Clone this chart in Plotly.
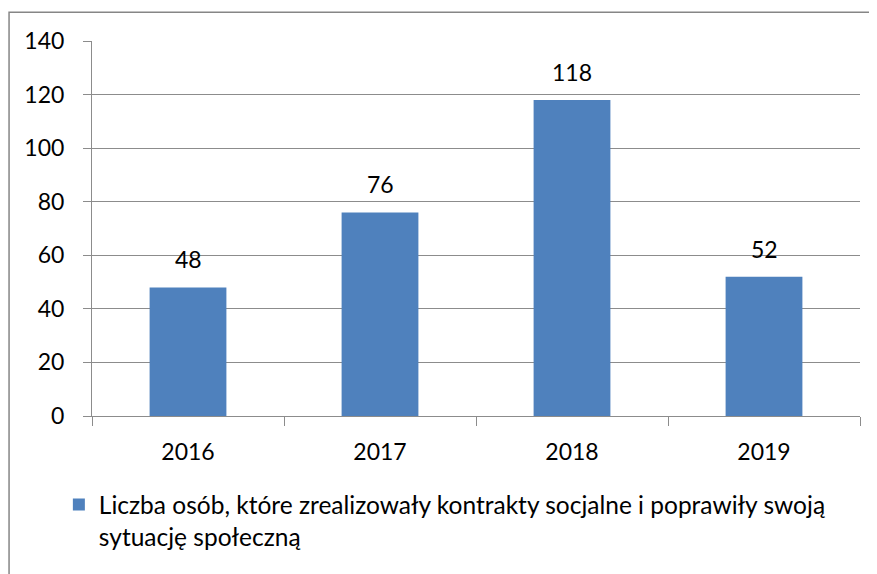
import plotly.graph_objects as go

years = ["2016", "2017", "2018", "2019"]
values = [48, 76, 118, 52]
series_name = "Liczba osób, które zrealizowały kontrakty socjalne i poprawiły swoją<br>sytuację społeczną"

BAR_COLOR = "#4F81BD"
GRID_COLOR = "#8C8C8C"
FONT = "Lato"
FSIZE = 23

fig = go.Figure()
fig.add_trace(
    go.Bar(
        x=years,
        y=values,
        name=series_name,
        marker=dict(color=BAR_COLOR, line=dict(width=0)),
        width=0.4,
        showlegend=True,
    )
)

# data labels above the bars (x given as category index)
for i, v in enumerate(values):
    fig.add_annotation(
        x=i, y=v, text=str(v), showarrow=False,
        yanchor="bottom", yshift=12,
        font=dict(family=FONT, size=FSIZE, color="black"),
    )

# outer chart border
fig.add_shape(
    type="rect", xref="paper", yref="paper",
    x0=-0.108, x1=1.05, y0=-0.46, y1=1.077,
    line=dict(color="#868686", width=1.5), layer="below",
)

# page body has an 8px margin, so the figure is offset by 8px
fig.update_layout(
    width=877, height=574,
    margin=dict(l=84, r=25, t=33, b=166, autoexpand=False),
    paper_bgcolor="white", plot_bgcolor="white",
    font=dict(family=FONT, size=FSIZE, color="black"),
    showlegend=True,
    legend=dict(
        xref="container", yref="container",
        x=0.058, y=0.174, xanchor="left", yanchor="top",
        valign="top", font=dict(family=FONT, size=24.5, color="black"),
        bgcolor="rgba(0,0,0,0)",
    ),
)
fig.update_xaxes(
    type="category", tickson="boundaries", ticks="outside", ticklen=9,
    tickcolor=GRID_COLOR, showline=True, linecolor=GRID_COLOR, linewidth=1,
    showgrid=False, ticklabelstandoff=15, range=[-0.5, 3.5], automargin=False,
)
fig.update_yaxes(
    range=[0, 140], dtick=20, ticks="outside", ticklen=8,
    tickcolor=GRID_COLOR, showline=True, linecolor=GRID_COLOR, linewidth=1,
    showgrid=True, gridcolor=GRID_COLOR, gridwidth=1, zeroline=False,
    ticklabelstandoff=14, automargin=False,
)

fig.write_html("out.html")
